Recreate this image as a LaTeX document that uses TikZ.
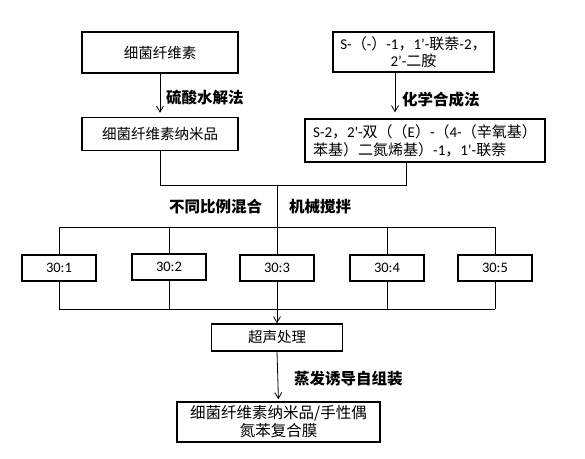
\documentclass[tikz,border=0pt]{standalone}
\usepackage{fontspec}
\setmainfont{Noto Sans CJK SC}
\newfontfamily\lat{Carlito}
\usetikzlibrary{arrows.meta}
\begin{document}
\begin{tikzpicture}[x=1pt,y=-1pt,
  box/.style={draw, line width=1.4pt, inner sep=0pt, font=\fontsize{14.5}{17}\selectfont},
  rbox/.style={box, minimum width=74pt, minimum height=26pt, font=\lat\fontsize{14.5}{17}\selectfont},
  lbl/.style={font=\bfseries\fontsize{15.5}{18}\selectfont, inner sep=0pt, anchor=west},
  conn/.style={line width=0.8pt},
  arr/.style={conn, -{Straight Barb[length=6pt,width=7pt]}}]
\useasboundingbox[fill=white] (0,0) rectangle (585,458);
\node[box, minimum width=156pt, minimum height=41pt] (b1) at (160,52.5) {细菌纤维素};
\node[box, minimum width=156pt, minimum height=33pt] (b2) at (160,134) {细菌纤维素纳米品};
\node[box, minimum width=161pt, minimum height=40pt, align=center, font=\fontsize{15}{17}\selectfont] (b3) at (413.5,52) {{\lat S-}（{\lat -}）{\lat -1}，{\lat 1’-}联萘{\lat -2}，\\{\lat 2’-}二胺};
\node[box, minimum width=240pt, minimum height=43pt, align=left, font=\fontsize{15}{18}\selectfont] (b4) at (425,140.5) {{\lat S-2}，{\lat 2'-}双（（{\lat E}）{\lat -}（{\lat 4-}（辛氧基）\\苯基）二氮烯基）{\lat -1}，{\lat 1’-}联萘};
\node[rbox] (r1) at (59,268) {30:1};
\node[rbox] (r2) at (169,267) {30:2};
\node[rbox] (r3) at (277,268) {30:3};
\node[rbox] (r4) at (387,268) {30:4};
\node[rbox] (r5) at (495,268) {30:5};
\node[box, minimum width=131pt, minimum height=27pt] (us) at (277,337.5) {超声处理};
\node[box, minimum width=203pt, minimum height=40pt, align=center, font=\fontsize{15.5}{18}\selectfont] (fin) at (278.5,422) {细菌纤维素纳米品/手性偶\\氮苯复合膜};
\node[lbl] (l1) at (166,98) {硫酸水解法};
\node[lbl] (l2) at (402,100) {化学合成法};
\node[lbl] (l3) at (169,207) {不同比例混合};
\node[lbl] (l4) at (289,207) {机械搅拌};
\node[lbl] (l5) at (294,379) {蒸发诱导自组装};
\coordinate (j1) at (160,185);
\coordinate (j2) at (406,185);
\coordinate (x3) at (395,0);
\coordinate (tl) at (59,227);
\coordinate (tr) at (495,227);
\coordinate (bl) at (59,309);
\coordinate (br) at (495,309);
\draw[arr, shorten >=4pt] (b1) -- (b2);
\draw[arr, shorten >=6pt] (b3.south -| x3) -- (b4.north -| x3);
\draw[conn] (b2.south) -- (j1) -- (j2) -- (b4.south -| j2);
\draw[conn] (tl) -- (tr);
\draw[conn] (bl) -- (br);
\draw[conn] (j1 -| r3) -- (r3.north);
\foreach \r in {r1,r2,r4,r5}{
  \draw[conn] (tl -| \r) -- (\r.north);
  \draw[conn] (\r.south) -- (bl -| \r);
}
\draw[arr] (r3.south) -- (us.north);
\draw[arr, shorten >=2pt] (us.south) -- (fin.north);
\end{tikzpicture}
\end{document}
